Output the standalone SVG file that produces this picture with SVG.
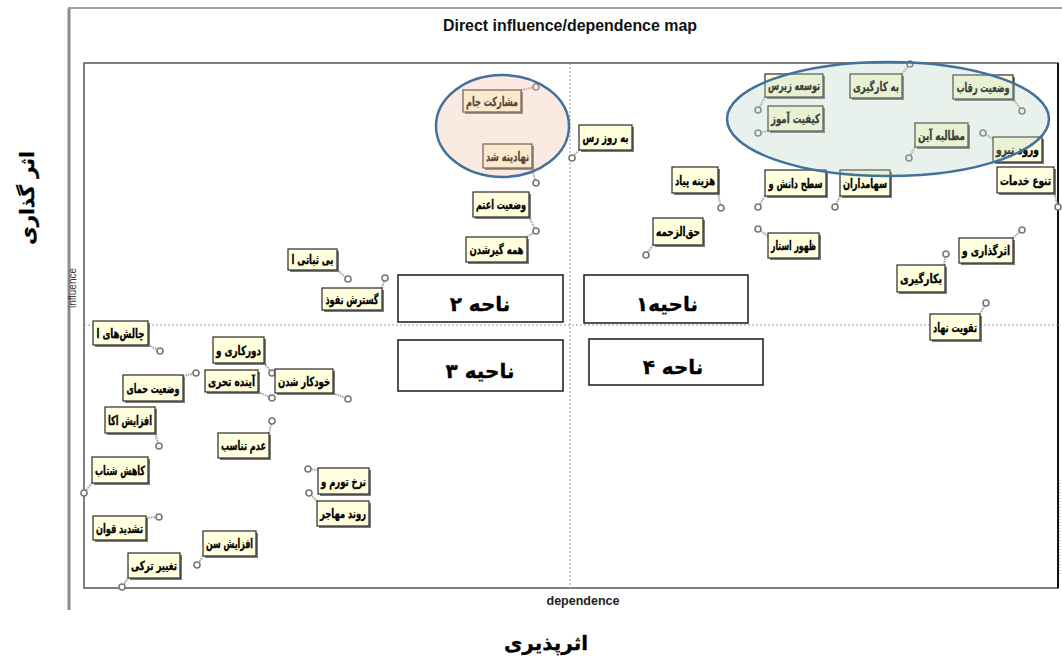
<svg xmlns="http://www.w3.org/2000/svg" width="1062" height="660" viewBox="0 0 1062 660">
<style>
.sh{fill:#7a7a7a}
.bx{fill:#fffedd;stroke:#2a2a2a;stroke-width:1.2}
.lt{font-family:"DejaVu Sans",sans-serif;font-weight:bold;font-size:12.5px;fill:#000;stroke:#000;stroke-width:0.3;text-anchor:middle}
.pt{fill:#fff;stroke:#777;stroke-width:1.6}
.ld{stroke:#a8a8a8;stroke-width:2.2;stroke-dasharray:1.5 1;fill:none}
.zb{fill:#fff;stroke:#1a1a1a;stroke-width:1.5}
.zt{font-family:"DejaVu Sans",sans-serif;font-weight:bold;font-size:20px;fill:#000;stroke:#000;stroke-width:0.3;text-anchor:middle}
.mid{stroke:#9a9a9a;stroke-width:1;stroke-dasharray:2 2;fill:none}
.ax{font-family:"DejaVu Sans",sans-serif;font-weight:bold;font-size:20px;fill:#000;stroke:#000;stroke-width:0.3;text-anchor:middle}
</style>
<rect x="0" y="0" width="1062" height="660" fill="#fff"/>
<g id="frame">
<line x1="69" y1="8" x2="69" y2="610" stroke="#8c8c8c" stroke-width="3"/>
<line x1="68" y1="8" x2="1062" y2="8" stroke="#a0a0a0" stroke-width="2"/>
<rect x="84" y="63" width="974" height="525" fill="none" stroke="#555" stroke-width="1.5"/>
<line x1="1058" y1="63" x2="1058" y2="588" stroke="#111" stroke-width="2"/>
<line x1="570" y1="63" x2="570" y2="588" class="mid"/>
<line x1="84" y1="325" x2="1058" y2="325" class="mid"/>
<line x1="1060" y1="480" x2="1060" y2="575" stroke="#b0a080" stroke-width="1" stroke-dasharray="1 2"/>
<text x="570" y="31" font-family="Liberation Sans, Arial, sans-serif" font-size="16" font-weight="bold" fill="#111" text-anchor="middle" textLength="254" lengthAdjust="spacingAndGlyphs">Direct influence/dependence map</text>
<text transform="translate(76,288) rotate(-90)" font-family="Liberation Sans, Arial, sans-serif" font-size="10" fill="#333" text-anchor="middle">influence</text>
<text x="583" y="605" font-family="Liberation Sans, Arial, sans-serif" font-size="12.5" font-weight="bold" fill="#222" text-anchor="middle">dependence</text>
<text class="ax" transform="translate(34,198) rotate(-90)">اثر گذاری</text>
<text class="ax" x="546" y="650">اثرپذیری</text>
</g>
<g id="zone2"><rect class="zb" x="398" y="275" width="165" height="47"/><text class="zt" x="480" y="311">ناحه ۲</text></g>
<g id="zone1"><rect class="zb" x="584" y="275" width="164" height="48"/><text class="zt" x="667" y="311">ناحیه۱</text></g>
<g id="zone3"><rect class="zb" x="398" y="340" width="165" height="51"/><text class="zt" x="480" y="378">ناحیه ۳</text></g>
<g id="zone4"><rect class="zb" x="589" y="339" width="174" height="46"/><text class="zt" x="673" y="374">ناحه ۴</text></g>
<g id="connectors">
<line class="ld" x1="521" y1="90" x2="536" y2="87"/>
<line class="ld" x1="532" y1="168" x2="536" y2="183"/>
<line class="ld" x1="529" y1="217" x2="536" y2="231"/>
<line class="ld" x1="527" y1="237" x2="536" y2="231"/>
<line class="ld" x1="579" y1="150" x2="572" y2="158"/>
<line class="ld" x1="337" y1="270" x2="348" y2="279"/>
<line class="ld" x1="382" y1="288" x2="385" y2="278"/>
<line class="ld" x1="718" y1="193" x2="721" y2="208"/>
<line class="ld" x1="765" y1="196" x2="758" y2="207"/>
<line class="ld" x1="840" y1="196" x2="835" y2="207"/>
<line class="ld" x1="1054" y1="193" x2="1058" y2="207"/>
<line class="ld" x1="653" y1="245" x2="646" y2="255"/>
<line class="ld" x1="768" y1="236" x2="758" y2="229"/>
<line class="ld" x1="1013" y1="238" x2="1022" y2="230"/>
<line class="ld" x1="944" y1="265" x2="946" y2="254"/>
<line class="ld" x1="980" y1="314" x2="986" y2="303"/>
<line class="ld" x1="765" y1="97" x2="758" y2="110"/>
<line class="ld" x1="768" y1="131" x2="758" y2="133"/>
<line class="ld" x1="902" y1="74" x2="910" y2="64"/>
<line class="ld" x1="1013" y1="99" x2="1022" y2="111"/>
<line class="ld" x1="915" y1="147" x2="909" y2="158"/>
<line class="ld" x1="993" y1="139" x2="983" y2="133"/>
<line class="ld" x1="148" y1="345" x2="160" y2="351"/>
<line class="ld" x1="264" y1="363" x2="272" y2="373"/>
<line class="ld" x1="333" y1="393" x2="348" y2="399"/>
<line class="ld" x1="258" y1="392" x2="272" y2="398"/>
<line class="ld" x1="183" y1="376" x2="196" y2="373"/>
<line class="ld" x1="155" y1="433" x2="159" y2="446"/>
<line class="ld" x1="269" y1="433" x2="272" y2="421"/>
<line class="ld" x1="92" y1="483" x2="84" y2="493"/>
<line class="ld" x1="318" y1="470" x2="308" y2="469"/>
<line class="ld" x1="317" y1="501" x2="309" y2="493"/>
<line class="ld" x1="146" y1="518" x2="159" y2="517"/>
<line class="ld" x1="203" y1="556" x2="197" y2="565"/>
<line class="ld" x1="128" y1="578" x2="122" y2="587"/>
</g>
<g id="n1"><circle class="pt" cx="536" cy="87" r="3"/><rect class="sh" x="465" y="92" width="58" height="22"/><rect class="bx" x="463" y="90" width="58" height="22"/><text class="lt" x="492" y="105.5" textLength="52" lengthAdjust="spacingAndGlyphs">مشارکت جام</text></g>
<g id="n2"><circle class="pt" cx="536" cy="183" r="3"/><rect class="sh" x="485" y="146" width="49" height="24"/><rect class="bx" x="483" y="144" width="49" height="24"/><text class="lt" x="507.5" y="160.5" textLength="43" lengthAdjust="spacingAndGlyphs">نهادینه شد</text></g>
<g id="n3"><circle class="pt" cx="536" cy="231" r="3"/><rect class="sh" x="475" y="194" width="56" height="25"/><rect class="bx" x="473" y="192" width="56" height="25"/><text class="lt" x="501" y="209" textLength="50" lengthAdjust="spacingAndGlyphs">وضعیت اعتم</text></g>
<g id="n4"><rect class="sh" x="468" y="239" width="61" height="25"/><rect class="bx" x="466" y="237" width="61" height="25"/><text class="lt" x="496.5" y="254" textLength="54" lengthAdjust="spacingAndGlyphs">همه گیرشدن</text></g>
<g id="n5"><circle class="pt" cx="572" cy="158" r="3"/><rect class="sh" x="581" y="127" width="53" height="25"/><rect class="bx" x="579" y="125" width="53" height="25"/><text class="lt" x="605.5" y="142" textLength="46" lengthAdjust="spacingAndGlyphs">به روز رس</text></g>
<g id="n6"><circle class="pt" cx="348" cy="279" r="3"/><rect class="sh" x="290" y="251" width="49" height="21"/><rect class="bx" x="288" y="249" width="49" height="21"/><text class="lt" x="312.5" y="264" textLength="42" lengthAdjust="spacingAndGlyphs">بی ثباتی ا</text></g>
<g id="n7"><circle class="pt" cx="385" cy="278" r="3"/><rect class="sh" x="324" y="290" width="60" height="22"/><rect class="bx" x="322" y="288" width="60" height="22"/><text class="lt" x="352" y="303.5" textLength="53" lengthAdjust="spacingAndGlyphs">گسترش نفوذ</text></g>
<g id="n8"><circle class="pt" cx="721" cy="208" r="3"/><rect class="sh" x="674" y="169" width="46" height="26"/><rect class="bx" x="672" y="167" width="46" height="26"/><text class="lt" x="695" y="184.5" textLength="40" lengthAdjust="spacingAndGlyphs">هزینه پیاد</text></g>
<g id="n9"><circle class="pt" cx="758" cy="207" r="3"/><rect class="sh" x="767" y="172" width="61" height="26"/><rect class="bx" x="765" y="170" width="61" height="26"/><text class="lt" x="795.5" y="187.5" textLength="54" lengthAdjust="spacingAndGlyphs">سطح دانش و</text></g>
<g id="n10"><circle class="pt" cx="835" cy="207" r="3"/><rect class="sh" x="842" y="172" width="50" height="26"/><rect class="bx" x="840" y="170" width="50" height="26"/><text class="lt" x="865" y="187.5" textLength="44" lengthAdjust="spacingAndGlyphs">سهامداران</text></g>
<g id="n11"><circle class="pt" cx="1058" cy="207" r="3"/><rect class="sh" x="999" y="169" width="57" height="26"/><rect class="bx" x="997" y="167" width="57" height="26"/><text class="lt" x="1025.5" y="184.5" textLength="51" lengthAdjust="spacingAndGlyphs">تنوع خدمات</text></g>
<g id="n12"><circle class="pt" cx="646" cy="255" r="3"/><rect class="sh" x="655" y="220" width="50" height="27"/><rect class="bx" x="653" y="218" width="50" height="27"/><text class="lt" x="678" y="236" textLength="44" lengthAdjust="spacingAndGlyphs">حق‌الزحمه</text></g>
<g id="n13"><circle class="pt" cx="758" cy="229" r="3"/><rect class="sh" x="770" y="235" width="51" height="25"/><rect class="bx" x="768" y="233" width="51" height="25"/><text class="lt" x="793.5" y="250" textLength="45" lengthAdjust="spacingAndGlyphs">ظهور استار</text></g>
<g id="n14"><circle class="pt" cx="1022" cy="230" r="3"/><rect class="sh" x="961" y="240" width="54" height="25"/><rect class="bx" x="959" y="238" width="54" height="25"/><text class="lt" x="986" y="255" textLength="48" lengthAdjust="spacingAndGlyphs">اثرگذاری و</text></g>
<g id="n15"><circle class="pt" cx="946" cy="254" r="3"/><rect class="sh" x="899" y="267" width="48" height="27"/><rect class="bx" x="897" y="265" width="48" height="27"/><text class="lt" x="921" y="283" textLength="42" lengthAdjust="spacingAndGlyphs">بکارگیری</text></g>
<g id="n16"><circle class="pt" cx="986" cy="303" r="3"/><rect class="sh" x="932" y="316" width="50" height="26"/><rect class="bx" x="930" y="314" width="50" height="26"/><text class="lt" x="955" y="331.5" textLength="44" lengthAdjust="spacingAndGlyphs">تقویت نهاد</text></g>
<g id="n17"><circle class="pt" cx="758" cy="110" r="3"/><rect class="sh" x="767" y="76" width="58" height="23"/><rect class="bx" x="765" y="74" width="58" height="23"/><text class="lt" x="794" y="90" textLength="52" lengthAdjust="spacingAndGlyphs">توسعه زیرس</text></g>
<g id="n18"><circle class="pt" cx="758" cy="133" r="3"/><rect class="sh" x="770" y="108" width="55" height="25"/><rect class="bx" x="768" y="106" width="55" height="25"/><text class="lt" x="795.5" y="123" textLength="49" lengthAdjust="spacingAndGlyphs">کیفیت آموز</text></g>
<g id="n19"><circle class="pt" cx="910" cy="64" r="3"/><rect class="sh" x="852" y="76" width="52" height="24"/><rect class="bx" x="850" y="74" width="52" height="24"/><text class="lt" x="876" y="90.5" textLength="46" lengthAdjust="spacingAndGlyphs">به کارگیری</text></g>
<g id="n20"><circle class="pt" cx="1022" cy="111" r="3"/><rect class="sh" x="955" y="77" width="60" height="24"/><rect class="bx" x="953" y="75" width="60" height="24"/><text class="lt" x="983" y="91.5" textLength="53" lengthAdjust="spacingAndGlyphs">وضعیت رقاب</text></g>
<g id="n21"><circle class="pt" cx="909" cy="158" r="3"/><rect class="sh" x="917" y="125" width="53" height="24"/><rect class="bx" x="915" y="123" width="53" height="24"/><text class="lt" x="941.5" y="139.5" textLength="47" lengthAdjust="spacingAndGlyphs">مطالبه آین</text></g>
<g id="n22"><circle class="pt" cx="983" cy="133" r="3"/><rect class="sh" x="995" y="139" width="49" height="25"/><rect class="bx" x="993" y="137" width="49" height="25"/><text class="lt" x="1017.5" y="154" textLength="43" lengthAdjust="spacingAndGlyphs">ورود نیرو</text></g>
<g id="n23"><circle class="pt" cx="160" cy="351" r="3"/><rect class="sh" x="95" y="323" width="55" height="24"/><rect class="bx" x="93" y="321" width="55" height="24"/><text class="lt" x="120.5" y="337.5" textLength="48" lengthAdjust="spacingAndGlyphs">چالش‌های ا</text></g>
<g id="n24"><circle class="pt" cx="272" cy="373" r="3"/><rect class="sh" x="215" y="339" width="51" height="26"/><rect class="bx" x="213" y="337" width="51" height="26"/><text class="lt" x="238.5" y="354.5" textLength="45" lengthAdjust="spacingAndGlyphs">دورکاری و</text></g>
<g id="n25"><circle class="pt" cx="348" cy="399" r="3"/><rect class="sh" x="277" y="371" width="58" height="24"/><rect class="bx" x="275" y="369" width="58" height="24"/><text class="lt" x="304" y="385.5" textLength="52" lengthAdjust="spacingAndGlyphs">خودکار شدن</text></g>
<g id="n26"><circle class="pt" cx="272" cy="398" r="3"/><rect class="sh" x="207" y="372" width="53" height="22"/><rect class="bx" x="205" y="370" width="53" height="22"/><text class="lt" x="231.5" y="385.5" textLength="47" lengthAdjust="spacingAndGlyphs">آینده تحری</text></g>
<g id="n27"><circle class="pt" cx="196" cy="373" r="3"/><rect class="sh" x="125" y="377" width="60" height="26"/><rect class="bx" x="123" y="375" width="60" height="26"/><text class="lt" x="153" y="392.5" textLength="53" lengthAdjust="spacingAndGlyphs">وضعیت حمای</text></g>
<g id="n28"><circle class="pt" cx="159" cy="446" r="3"/><rect class="sh" x="107" y="409" width="50" height="26"/><rect class="bx" x="105" y="407" width="50" height="26"/><text class="lt" x="130" y="424.5" textLength="44" lengthAdjust="spacingAndGlyphs">افزایش اکا</text></g>
<g id="n29"><circle class="pt" cx="272" cy="421" r="3"/><rect class="sh" x="220" y="435" width="51" height="25"/><rect class="bx" x="218" y="433" width="51" height="25"/><text class="lt" x="243.5" y="450" textLength="45" lengthAdjust="spacingAndGlyphs">عدم تناسب</text></g>
<g id="n30"><circle class="pt" cx="84" cy="493" r="3"/><rect class="sh" x="94" y="459" width="56" height="26"/><rect class="bx" x="92" y="457" width="56" height="26"/><text class="lt" x="120" y="474.5" textLength="50" lengthAdjust="spacingAndGlyphs">کاهش شتاب</text></g>
<g id="n31"><circle class="pt" cx="308" cy="469" r="3"/><rect class="sh" x="320" y="470" width="51" height="26"/><rect class="bx" x="318" y="468" width="51" height="26"/><text class="lt" x="343.5" y="485.5" textLength="45" lengthAdjust="spacingAndGlyphs">نرخ تورم و</text></g>
<g id="n32"><circle class="pt" cx="309" cy="493" r="3"/><rect class="sh" x="319" y="503" width="52" height="25"/><rect class="bx" x="317" y="501" width="52" height="25"/><text class="lt" x="343" y="518" textLength="46" lengthAdjust="spacingAndGlyphs">روند مهاجر</text></g>
<g id="n33"><circle class="pt" cx="159" cy="517" r="3"/><rect class="sh" x="95" y="518" width="53" height="24"/><rect class="bx" x="93" y="516" width="53" height="24"/><text class="lt" x="119.5" y="532.5" textLength="47" lengthAdjust="spacingAndGlyphs">تشدید قوان</text></g>
<g id="n34"><circle class="pt" cx="197" cy="565" r="3"/><rect class="sh" x="205" y="533" width="53" height="25"/><rect class="bx" x="203" y="531" width="53" height="25"/><text class="lt" x="229.5" y="548" textLength="47" lengthAdjust="spacingAndGlyphs">افزایش سن</text></g>
<g id="n35"><circle class="pt" cx="122" cy="587" r="3"/><rect class="sh" x="130" y="555" width="52" height="25"/><rect class="bx" x="128" y="553" width="52" height="25"/><text class="lt" x="154" y="570" textLength="46" lengthAdjust="spacingAndGlyphs">تغییر ترکی</text></g>
<g id="cluster-pink"><ellipse cx="502.5" cy="126" rx="66.5" ry="51" fill="#f4c4a8" fill-opacity="0.35" stroke="#41719c" stroke-width="2.5"/></g>
<g id="cluster-green"><ellipse cx="888" cy="119" rx="161" ry="57" fill="#b7cfc0" fill-opacity="0.3" stroke="#41719c" stroke-width="2.5"/></g>
</svg>
